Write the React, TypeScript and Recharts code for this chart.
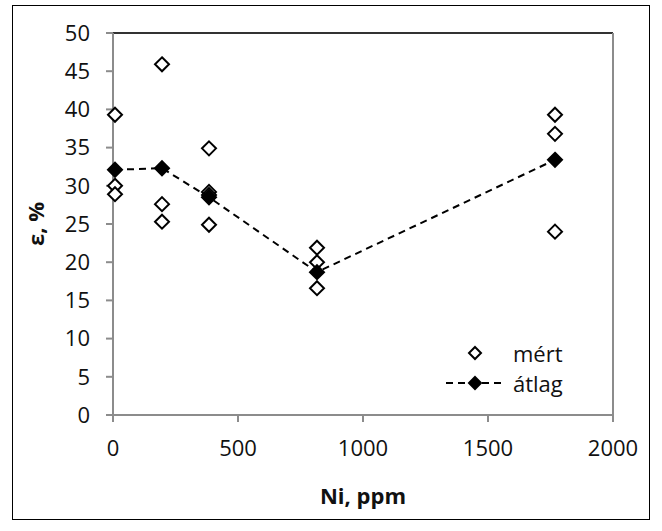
import React from 'react';
import { ScatterChart, Scatter, XAxis, YAxis, ReferenceLine, Label } from 'recharts';

// mért (measured) values, ppm Ni vs elongation %
const measuredNi = [8, 8, 8, 196, 196, 196, 384, 384, 384, 384, 816, 816, 816, 1768, 1768, 1768];
const measuredEps = [39.3, 30.0, 28.9, 45.9, 27.6, 25.3, 34.9, 29.2, 28.8, 24.9, 21.9, 20.0, 16.6, 39.3, 36.8, 24.0];

// átlag (average)
const avgNi = [8, 196, 384, 816, 1768];
const avgEps = [32.1, 32.3, 28.5, 18.7, 33.4];

const xTicks = [0, 500, 1000, 1500, 2000];
const yTicks = [0, 5, 10, 15, 20, 25, 30, 35, 40, 45, 50];

const measured = measuredNi.map((x, i) => ({ x, y: measuredEps[i] }));
const average = avgNi.map((x, i) => ({ x, y: avgEps[i] }));

const FONT = '"Open Sans", sans-serif';

const Diamond = (props: any) => {
  const { cx, cy, filled } = props;
  if (cx == null || cy == null) return null;
  const r = 7;
  return (
    <polygon
      points={`${cx},${cy - r} ${cx + r},${cy} ${cx},${cy + r} ${cx - r},${cy}`}
      fill={filled ? '#000' : '#fff'}
      stroke="#000"
      strokeWidth={2}
    />
  );
};

const LegendBox = () => (
  <div style={{ position: 'absolute', left: 432, top: 332, fontFamily: FONT, fontSize: 22, color: '#111' }}>
    <div style={{ display: 'flex', alignItems: 'center', height: 30 }}>
      <svg width={66} height={20}>
        <polygon points="30,4 36,10 30,16 24,10" fill="#fff" stroke="#000" strokeWidth={2} />
      </svg>
      <span style={{ marginLeft: 2 }}>mért</span>
    </div>
    <div style={{ display: 'flex', alignItems: 'center', height: 30 }}>
      <svg width={66} height={20}>
        <line x1={1} y1={10} x2={58} y2={10} stroke="#000" strokeWidth={2} strokeDasharray="7 5" />
        <polygon points="30,4 36,10 30,16 24,10" fill="#000" stroke="#000" strokeWidth={2} />
      </svg>
      <span style={{ marginLeft: 2 }}>átlag</span>
    </div>
  </div>
);

export default function App() {
  return (
    <div
      style={{
        position: 'absolute',
        left: 12,
        top: 5,
        width: 636,
        height: 513,
        border: '1px solid #000',
        background: '#fff',
      }}
    >
      <ScatterChart width={636} height={513} margin={{ top: 27, right: 36, bottom: 24, left: 40 }}>
        <XAxis
          type="number"
          dataKey="x"
          domain={[0, 2000]}
          ticks={xTicks}
          height={80}
          tickSize={7}
          tickMargin={18}
          stroke="#8c8c8c"
          strokeWidth={2}
          tick={{ fill: '#111', fontFamily: FONT, fontSize: 22 }}
        >
          <Label
            value="Ni, ppm"
            position="insideBottom"
            offset={-9}
            style={{ fontFamily: FONT, fontSize: 22, fontWeight: 700, fill: '#111' }}
          />
        </XAxis>
        <YAxis
          type="number"
          dataKey="y"
          domain={[0, 50]}
          ticks={yTicks}
          width={60}
          tickSize={7}
          tickMargin={16}
          stroke="#8c8c8c"
          strokeWidth={2}
          tick={{ fill: '#111', fontFamily: FONT, fontSize: 22 }}
        >
          <Label
            value="ε, %"
            angle={-90}
            position="insideLeft"
            offset={-17}
            style={{ fontFamily: FONT, fontSize: 22, fontWeight: 700, fill: '#111', textAnchor: 'middle' }}
          />
        </YAxis>
        <ReferenceLine y={50} stroke="#333" strokeWidth={2} />
        <ReferenceLine x={2000} stroke="#8c8c8c" strokeWidth={2} />
        <Scatter
          name="mért"
          data={measured}
          isAnimationActive={false}
          shape={(p: any) => <Diamond {...p} filled={false} />}
        />
        <Scatter
          name="átlag"
          data={average}
          isAnimationActive={false}
          line={{ stroke: '#000', strokeWidth: 2, strokeDasharray: '7 5' }}
          lineType="joint"
          shape={(p: any) => <Diamond {...p} filled />}
        />
      </ScatterChart>
      <LegendBox />
    </div>
  );
}
